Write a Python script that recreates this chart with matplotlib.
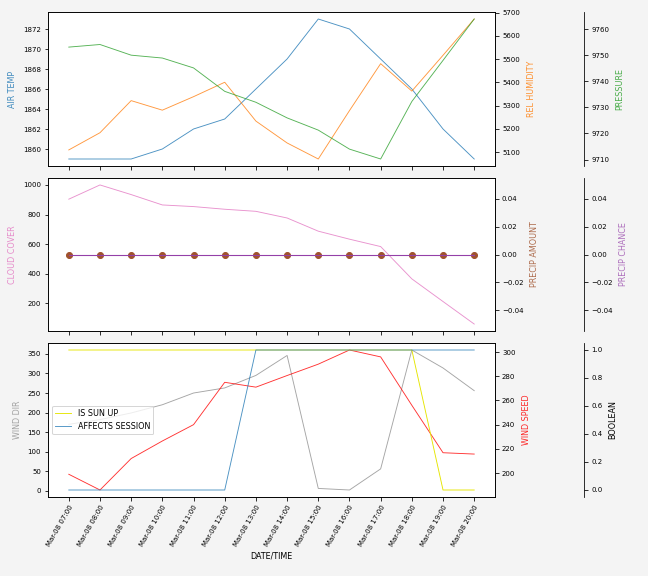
import matplotlib
matplotlib.use("Agg")
import matplotlib.pyplot as plt
import matplotlib.dates as mdates
import pandas as pd
import numpy as np

times = pd.date_range("2024-03-08 07:00", "2024-03-08 20:00", freq="h")

air_temp = [1859, 1859, 1859, 1860, 1862, 1863, 1866, 1869, 1873, 1872, 1869, 1866, 1862, 1859]
rel_humidity = [5110, 5184, 5322, 5281, 5339, 5401, 5234, 5140, 5071, 5279, 5481, 5363, 5517, 5673]
pressure = [9753.2, 9754.2, 9750.1, 9749.0, 9745.2, 9736.2, 9732.0, 9726.0, 9721.3, 9714.0, 9710.2, 9732.3, 9748.1, 9764.0]

cloud_cover = [904, 1000, 935, 865, 854, 836, 822, 777, 688, 634, 584, 366, 213, 61]
precip_amount = [0.0] * 14
precip_chance = [0.0] * 14

wind_dir = [170, 182, 199, 220, 250, 263, 295, 346, 6, 2, 56, 360, 314, 256]
wind_speed = [199, 186, 212, 226.5, 240, 275, 271, 280.6, 290, 301.7, 296, 256, 216.8, 215.7]
is_sun_up = [1, 1, 1, 1, 1, 1, 1, 1, 1, 1, 1, 1, 0, 0]
affects_session = [0, 0, 0, 0, 0, 0, 1, 1, 1, 1, 1, 1, 1, 1]

FS = 7
LFS = 8
plt.rcParams['font.size'] = FS
plt.rcParams['font.family'] = ['DejaVu Sans']

fig = plt.figure(figsize=(9, 8), dpi=72, facecolor='#f4f4f4')
L, R = 48/648, 495/648
def ax_at(top_px, bot_px):
    return fig.add_axes([L, 1 - bot_px/576, R - L, (bot_px - top_px)/576])

ax1 = ax_at(12, 166)
ax2 = ax_at(178, 331)
ax3 = ax_at(343, 497)

A = 0.8
LA = 0.85
c_blue, c_orange, c_green = '#1f77b4', '#ff7f0e', '#2ca02c'
c_pink, c_brown, c_purple = '#e377c2', '#a0522d', '#9440a8'
c_gray, c_red, c_yellow = '#7f7f7f', 'red', '#e5e500'

LP_L, LP_R, LP_3 = 6, 7, 6

def third(ax):
    t = ax.twinx()
    t.spines['right'].set_position(('axes', 1.2))
    for s in ['top', 'left', 'bottom']:
        t.spines[s].set_visible(False)
    return t

# Top panel
ax1.plot(times, air_temp, color=c_blue, lw=0.9, alpha=A)
ax1.set_ylabel('AIR TEMP', color=c_blue, alpha=LA, labelpad=LP_L, fontsize=LFS)
t1 = ax1.twinx()
t1.plot(times, rel_humidity, color=c_orange, lw=0.9, alpha=A)
t1.set_ylabel('REL HUMIDITY', color=c_orange, alpha=LA, labelpad=LP_R, fontsize=LFS)
t1b = third(ax1)
t1b.plot(times, pressure, color=c_green, lw=0.9, alpha=A)
t1b.set_ylabel('PRESSURE', color=c_green, alpha=LA, labelpad=LP_3, fontsize=LFS)

# Middle panel
ax2.plot(times, cloud_cover, color=c_pink, lw=0.9, alpha=A)
ax2.set_ylabel('CLOUD COVER', color=c_pink, alpha=LA, labelpad=LP_L, fontsize=LFS)
t2 = ax2.twinx()
t2.plot(times, precip_amount, color=c_brown, lw=0.9, marker='o', ms=6)
t2.set_ylabel('PRECIP AMOUNT', color=c_brown, alpha=LA, labelpad=LP_R, fontsize=LFS)
t2b = third(ax2)
t2b.plot(times, precip_chance, color=c_purple, lw=1.1)
t2b.set_ylabel('PRECIP CHANCE', color=c_purple, alpha=0.75, labelpad=LP_3, fontsize=LFS)

# Bottom panel
ax3.plot(times, wind_dir, color=c_gray, lw=0.9, alpha=0.7)
ax3.set_ylabel('WIND DIR', color=c_gray, alpha=0.7, labelpad=LP_L, fontsize=LFS)
t3 = ax3.twinx()
t3.plot(times, wind_speed, color=c_red, lw=0.9, alpha=A)
t3.set_ylabel('WIND SPEED', color=c_red, alpha=LA, labelpad=LP_R, fontsize=LFS)
t3b = third(ax3)
l1, = t3b.plot(times, is_sun_up, color=c_yellow, lw=0.9, label='IS SUN UP')
l2, = t3b.plot(times, affects_session, color=c_blue, lw=0.9, alpha=A, label='AFFECTS SESSION')
t3b.set_ylabel('BOOLEAN', color='black', labelpad=LP_3, fontsize=LFS)
ax3.legend(handles=[l1, l2], loc='center left', fontsize=LFS, framealpha=0.8)

for ax in (ax1, ax2, ax3):
    ax.set_xticks(times)
    ax.xaxis.set_major_formatter(mdates.DateFormatter('%b-%d %H:%M'))
    ax.set_xlim(times[0] - pd.Timedelta(minutes=40), times[-1] + pd.Timedelta(minutes=40))
    ax.tick_params(labelsize=FS)
for ax in (ax1, ax2):
    ax.tick_params(labelbottom=False)
for t in (t1, t1b, t2, t2b, t3, t3b):
    t.tick_params(labelsize=FS)
plt.setp(ax3.get_xticklabels(), rotation=60, ha='right', rotation_mode='anchor')
ax3.set_xlabel('DATE/TIME', fontsize=LFS)

fig.savefig('out.png', dpi=72, facecolor=fig.get_facecolor())
